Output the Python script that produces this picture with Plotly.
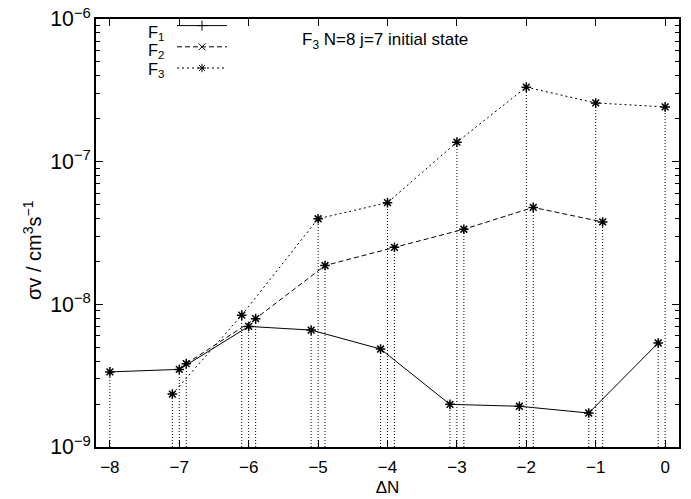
import plotly.graph_objects as go

# Rate coefficients for F3 N=8 j=7 initial state, per final fine-structure level
F1_dN = [-8, -7, -6, -5, -4, -3, -2, -1, 0]
F1_shift = [0.0, 0.0, 0.0, -0.1, -0.1, -0.1, -0.1, -0.1, -0.1]
F1_rate = [3.36e-9, 3.5e-9, 7.0e-9, 6.6e-9, 4.86e-9, 1.99e-9, 1.93e-9, 1.73e-9, 5.36e-9]

F2_dN = [-7, -6, -5, -4, -3, -2, -1]
F2_shift = [0.1, 0.1, 0.1, 0.1, 0.1, 0.1, 0.1]
F2_rate = [3.84e-9, 7.94e-9, 1.87e-8, 2.51e-8, 3.36e-8, 4.78e-8, 3.78e-8]

F3_dN = [-7, -6, -5, -4, -3, -2, -1, 0]
F3_shift = [-0.1, -0.1, 0.0, 0.0, 0.0, 0.0, 0.0, 0.0]
F3_rate = [2.35e-9, 8.4e-9, 3.98e-8, 5.16e-8, 1.37e-7, 3.33e-7, 2.58e-7, 2.42e-7]

x_ticks = [-8, -7, -6, -5, -4, -3, -2, -1, 0]
labels = ["F<sub>1</sub>", "F<sub>2</sub>", "F<sub>3</sub>"]
y_min, y_max = 1e-9, 1e-6

FONT = "Liberation Sans, Arial, sans-serif"

series = [
    (F1_dN, F1_shift, F1_rate, "solid", "cross-thin-open"),
    (F2_dN, F2_shift, F2_rate, "5px,3px", "x-thin-open"),
    (F3_dN, F3_shift, F3_rate, "2px,3px", "asterisk-open"),
]

fig = go.Figure()

# impulses from the bottom of the axis to each point
for dn, sh, rate, dash, sym in series:
    xs, ys = [], []
    for d, s, r in zip(dn, sh, rate):
        xs += [d + s, d + s, None]
        ys += [y_min, r, None]
    fig.add_trace(go.Scatter(
        x=xs, y=ys, mode="lines", showlegend=False, hoverinfo="skip",
        line=dict(color="black", width=1, dash="1px,2px"),
    ))

# connecting lines, plus legend samples carrying the per-series symbol
for dn, sh, rate, dash, sym in series:
    fig.add_trace(go.Scatter(
        x=[d + s for d, s in zip(dn, sh)], y=rate, mode="lines",
        showlegend=False, hoverinfo="skip",
        line=dict(color="black", width=1, dash=dash),
    ))
    fig.add_trace(go.Scatter(
        x=[None], y=[None], mode="lines+markers", name="\u2009",
        line=dict(color="black", width=1, dash=dash),
        marker=dict(symbol=sym, size=7, color="black",
                    line=dict(color="black", width=1)),
    ))

# star markers at every point
for (dn, sh, rate, dash, sym), lbl in zip(series, ["F1", "F2", "F3"]):
    fig.add_trace(go.Scatter(
        x=[d + s for d, s in zip(dn, sh)], y=rate, mode="markers",
        showlegend=False, name=lbl,
        marker=dict(symbol="asterisk-open", size=8, color="black",
                    line=dict(color="black", width=1.5)),
    ))

# page geometry used for placing the text labels in paper coordinates
W, H = 691, 499
L, R, T, B = 96, 12, 19, 52
pw, ph = W - L - R, H - T - B


def px(xp):
    return (xp - L) / pw


def py(yp):
    return 1 - (yp - T) / ph


ann = [dict(text="F<sub>3</sub> N=8 j=7 initial state", x=px(300), y=py(41),
            xref="paper", yref="paper", showarrow=False, xanchor="left",
            yanchor="middle", font=dict(size=17, family=FONT))]
for i, lbl in enumerate(labels):
    ann.append(dict(text=lbl, x=px(146), y=py(33 + 18.5 * i),
                    xref="paper", yref="paper", showarrow=False,
                    xanchor="left", yanchor="middle",
                    font=dict(size=16.5, family=FONT)))
# rotated y-axis label
ann.append(dict(text="σv / cm<sup>3</sup>s<sup>−1</sup>", x=px(32), y=py(250),
                xref="paper", yref="paper", showarrow=False, textangle=-90,
                xanchor="center", yanchor="middle",
                font=dict(size=20, family=FONT)))

fig.update_layout(
    width=W, height=H,
    margin=dict(l=L, r=R, t=T, b=B, autoexpand=False),
    paper_bgcolor="white", plot_bgcolor="white",
    font=dict(family=FONT, size=17, color="black"),
    annotations=ann,
    legend=dict(x=px(172), y=py(10), xanchor="left", yanchor="top",
                bgcolor="rgba(0,0,0,0)", font=dict(size=14),
                tracegroupgap=0, itemwidth=50),
    xaxis=dict(
        range=[-8.2, 0.2], tickvals=x_ticks, automargin=False,
        ticks="inside", ticklen=7, tickwidth=1, tickcolor="black",
        showline=True, linecolor="black", linewidth=1.5, mirror="ticks",
        showgrid=False, zeroline=False,
        title=dict(text="ΔN", font=dict(size=17), standoff=5),
        tickfont=dict(size=17), ticklabelstandoff=4,
    ),
    yaxis=dict(
        type="log", range=[-9, -6], dtick=1, exponentformat="power",
        automargin=False,
        ticks="inside", ticklen=7, tickwidth=1, tickcolor="black",
        showline=True, linecolor="black", linewidth=1.5, mirror="ticks",
        showgrid=False, zeroline=False,
        minor=dict(ticks="inside", ticklen=4, dtick="D1", tickcolor="black",
                   showgrid=False),
        tickfont=dict(size=17),
    ),
)

fig.write_html("out.html")
